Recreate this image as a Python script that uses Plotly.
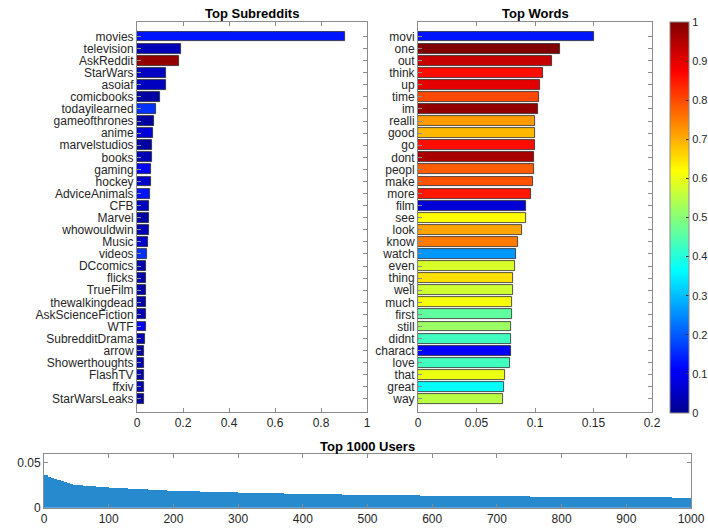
import plotly.graph_objects as go

# ---------------- data ----------------
subreddits = ["movies", "television", "AskReddit", "StarWars", "asoiaf", "comicbooks",
              "todayilearned", "gameofthrones", "anime", "marvelstudios", "books", "gaming",
              "hockey", "AdviceAnimals", "CFB", "Marvel", "whowouldwin", "Music", "videos",
              "DCcomics", "flicks", "TrueFilm", "thewalkingdead", "AskScienceFiction", "WTF",
              "SubredditDrama", "arrow", "Showerthoughts", "FlashTV", "ffxiv", "StarWarsLeaks"]
subreddit_values = [0.903, 0.190, 0.184, 0.124, 0.124, 0.100, 0.083, 0.074, 0.068, 0.066,
                    0.064, 0.061, 0.061, 0.057, 0.054, 0.053, 0.053, 0.048, 0.044, 0.041,
                    0.041, 0.040, 0.040, 0.038, 0.037, 0.035, 0.032, 0.031, 0.031, 0.030, 0.030]
subreddit_colors = [0.13, 0.04, 0.98, 0.05, 0.05, 0.02, 0.16, 0.02, 0.07, 0.02, 0.04, 0.11,
                    0.06, 0.13, 0.05, 0.02, 0.04, 0.06, 0.16, 0.03, 0.03, 0.03, 0.03, 0.04,
                    0.11, 0.04, 0.02, 0.04, 0.03, 0.04, 0.02]

words = ["movi", "one", "out", "think", "up", "time", "im", "realli", "good", "go", "dont",
         "peopl", "make", "more", "film", "see", "look", "know", "watch", "even", "thing",
         "well", "much", "first", "still", "didnt", "charact", "love", "that", "great", "way"]
word_values = [0.150, 0.121, 0.1146, 0.107, 0.1046, 0.1037, 0.1023, 0.1000, 0.0997, 0.0997,
               0.0991, 0.0989, 0.0983, 0.0969, 0.0926, 0.0920, 0.0891, 0.0854, 0.0837, 0.0829,
               0.0814, 0.0814, 0.0806, 0.0800, 0.0797, 0.0797, 0.0794, 0.0789, 0.0743, 0.0734,
               0.0729]
word_colors = [0.13, 1.00, 0.93, 0.86, 0.90, 0.80, 0.98, 0.72, 0.69, 0.86, 0.96, 0.78, 0.79,
               0.85, 0.07, 0.62, 0.71, 0.75, 0.26, 0.58, 0.65, 0.57, 0.61, 0.46, 0.52, 0.43,
               0.11, 0.43, 0.60, 0.37, 0.55]

# Top 1000 users: ranks 1-100 read in groups of 5, ranks 101-1000 in groups of 10
user_values_top100 = [0.0365, 0.0343, 0.0332, 0.0323, 0.0312, 0.0298, 0.0285, 0.0275, 0.0265,
                      0.0257, 0.0253, 0.0250, 0.0247, 0.0244, 0.0241, 0.0238, 0.0235, 0.0232,
                      0.0229, 0.0226]
user_values_rest = [0.0222, 0.0218, 0.0215, 0.0211, 0.0208, 0.0204, 0.0201, 0.0198, 0.0195,
                    0.0192, 0.0189, 0.0187, 0.0184, 0.0182, 0.0180, 0.0178, 0.0176, 0.0174,
                    0.0172, 0.0171, 0.0169, 0.0167, 0.0165, 0.0164, 0.0162, 0.0161, 0.0159,
                    0.0158, 0.0157, 0.0155, 0.0154, 0.0153, 0.0152, 0.0150, 0.0149, 0.0148,
                    0.0147, 0.0146, 0.0145, 0.0144, 0.0143, 0.0142, 0.0141, 0.0140, 0.0140,
                    0.0139, 0.0138, 0.0137, 0.0136, 0.0135, 0.0135, 0.0134, 0.0133, 0.0133,
                    0.0132, 0.0131, 0.0131, 0.0130, 0.0129, 0.0129, 0.0128, 0.0127, 0.0127,
                    0.0126, 0.0126, 0.0125, 0.0124, 0.0124, 0.0123, 0.0123, 0.0122, 0.0122,
                    0.0121, 0.0121, 0.0120, 0.0120, 0.0119, 0.0119, 0.0118, 0.0118, 0.0117,
                    0.0117, 0.0116, 0.0116, 0.0116, 0.0115, 0.0115, 0.0114, 0.0114, 0.0113]

sub_ticks = [0, 0.2, 0.4, 0.6, 0.8, 1]
word_ticks = [0, 0.05, 0.1, 0.15, 0.2]
user_xticks = list(range(0, 1001, 100))
user_yticks = [0, 0.05]
cbar_ticks = [0, 0.1, 0.2, 0.3, 0.4, 0.5, 0.6, 0.7, 0.8, 0.9, 1]

# ---------------- style ----------------
W, H = 708, 531
FONT = "Liberation Sans, Arial, Helvetica, sans-serif"
TXT = "#262626"
AX = "#8c8c8c"
jet = [[0.0, "rgb(0,0,143)"], [0.111, "rgb(0,0,255)"], [0.365, "rgb(0,255,255)"],
       [0.619, "rgb(255,255,0)"], [0.873, "rgb(255,0,0)"], [1.0, "rgb(128,0,0)"]]

def px_x(a, b):
    return [a / W, b / W]

def px_y(top, bottom):
    return [1 - bottom / H, 1 - top / H]

# bin geometry for the users bar chart
user_x, user_w, user_y = [], [], []
for i, v in enumerate(user_values_top100):
    user_x.append(0.5 + 5 * i + 2.5); user_w.append(5); user_y.append(v)
for i, v in enumerate(user_values_rest):
    user_x.append(100.5 + 10 * i + 5); user_w.append(10); user_y.append(v)

fig = go.Figure()

fig.add_trace(go.Bar(y=subreddits, x=subreddit_values, orientation="h", width=0.82,
                     marker=dict(color=subreddit_colors, coloraxis="coloraxis",
                                 line=dict(color="rgb(40,40,40)", width=0.8)),
                     xaxis="x", yaxis="y", showlegend=False))
fig.add_trace(go.Bar(y=words, x=word_values, orientation="h", width=0.82,
                     marker=dict(color=word_colors, coloraxis="coloraxis",
                                 line=dict(color="rgb(40,40,40)", width=0.8)),
                     xaxis="x2", yaxis="y2", showlegend=False))
fig.add_trace(go.Bar(x=user_x, y=user_y, width=user_w,
                     marker=dict(color="rgb(40,138,206)", line=dict(width=0)),
                     xaxis="x3", yaxis="y3", showlegend=False))

common = dict(showline=True, linecolor=AX, linewidth=1, mirror="ticks", ticks="inside",
              ticklen=4, tickcolor=AX, showgrid=False, zeroline=False,
              tickfont=dict(family=FONT, size=12, color=TXT))

fig.update_layout(
    width=W, height=H, margin=dict(l=0, r=0, t=0, b=0, autoexpand=False),
    paper_bgcolor="white", plot_bgcolor="white", bargap=0,
    font=dict(family=FONT, color=TXT),
    xaxis=dict(domain=px_x(137, 367), range=[0, 1], tickvals=sub_ticks,
               ticktext=["0", "0.2", "0.4", "0.6", "0.8", "1"], anchor="y", **common),
    yaxis=dict(domain=px_y(22, 412), type="category", categoryorder="array",
               categoryarray=subreddits, tickmode="array", tickvals=subreddits,
               range=[31.08, -1.2], anchor="x", **common),
    xaxis2=dict(domain=px_x(418, 652), range=[0, 0.2], tickvals=word_ticks,
                ticktext=["0", "0.05", "0.1", "0.15", "0.2"], anchor="y2", **common),
    yaxis2=dict(domain=px_y(22, 412), type="category", categoryorder="array",
                categoryarray=words, tickmode="array", tickvals=words,
                range=[31.08, -1.2], anchor="x2", **common),
    xaxis3=dict(domain=px_x(44, 691), range=[0, 1000], tickvals=user_xticks, anchor="y3",
                **common),
    yaxis3=dict(domain=px_y(454, 507.7), range=[0, 0.06], tickvals=user_yticks,
                ticktext=["0", "0.05"], anchor="x3", **common),
    coloraxis=dict(cmin=0, cmax=1, colorscale=jet,
                   colorbar=dict(x=670 / W, xanchor="left", xref="paper",
                                 y=1 - 22 / H, yanchor="top", yref="paper",
                                 len=391, lenmode="pixels", thickness=19,
                                 thicknessmode="pixels", outlinewidth=1, outlinecolor=AX,
                                 tickvals=cbar_ticks,
                                 ticktext=["0", "0.1", "0.2", "0.3", "0.4", "0.5", "0.6",
                                           "0.7", "0.8", "0.9", "1"],
                                 ticks="inside", ticklen=3, tickcolor="#333333",
                                 tickfont=dict(family=FONT, size=11, color=TXT),
                                 xpad=0, ypad=0)),
)

titles = [("Top Subreddits", (137 + 367) / 2, 13),
          ("Top Words", (418 + 652) / 2, 13),
          ("Top 1000 Users", (44 + 691) / 2, 446)]
for text, cx, cy in titles:
    fig.add_annotation(text="<b>%s</b>" % text, x=cx / W, y=1 - cy / H, xref="paper",
                       yref="paper", xanchor="center", yanchor="middle", showarrow=False,
                       font=dict(family=FONT, size=13, color="black"))

fig.write_html("out.html", config={"displayModeBar": False},
               post_script="document.body.style.margin='0';document.body.style.padding='0';")
